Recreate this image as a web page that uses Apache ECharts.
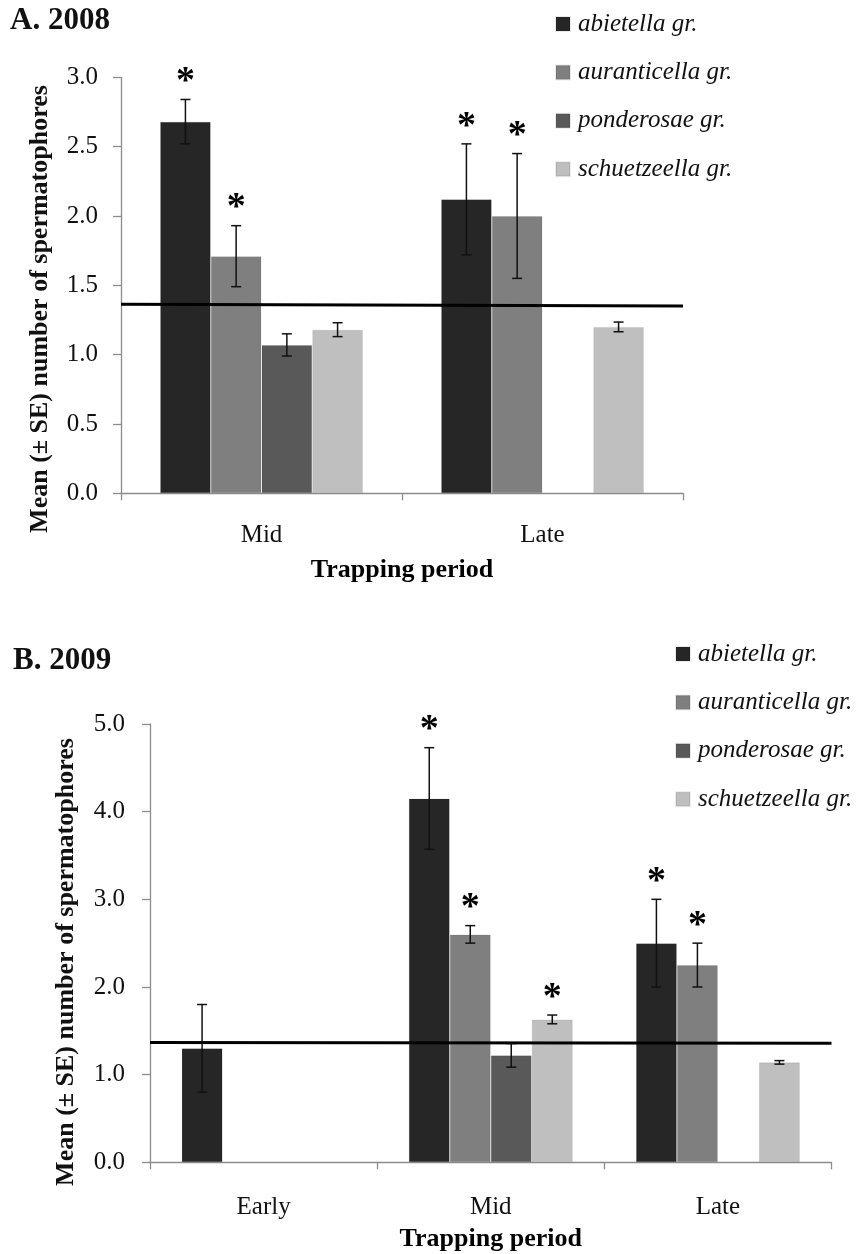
<!DOCTYPE html>
<html>
<head>
<meta charset="utf-8">
<script src="https://cdn.jsdelivr.net/npm/echarts@6/dist/echarts.min.js"></script>
<style>
  html, body { margin: 0; padding: 0; background: #fff; }
  #chart { width: 857px; height: 1254px; }
</style>
</head>
<body>
<div id="chart"></div>
<script>
// ---- Data: mean number of spermatophores (± SE) per species group ----
const groups = ['abietella gr.', 'auranticella gr.', 'ponderosae gr.', 'schuetzeella gr.'];
const groupColors = ['#262626', '#7f7f7f', '#595959', '#bfbfbf'];

// 2008
const periods2008 = ['Mid', 'Late'];
const abietella2008 = [2.68, 2.12];
const abietellaSE2008 = [0.16, 0.40];
const auranticella2008 = [1.71, 2.00];
const auranticellaSE2008 = [0.22, 0.45];
const ponderosae2008 = [1.07, null];
const ponderosaeSE2008 = [0.08, null];
const schuetzeella2008 = [1.18, 1.20];
const schuetzeellaSE2008 = [0.05, 0.035];
const sig2008 = [[1, 1], [1, 1], [0, 0], [0, 0]];
const refLine2008 = [1.363, 1.350];
const yTicks2008 = { min: 0, max: 3, interval: 0.5 };

// 2009
const periods2009 = ['Early', 'Mid', 'Late'];
const abietella2009 = [1.30, 4.15, 2.50];
const abietellaSE2009 = [0.50, 0.58, 0.50];
const auranticella2009 = [null, 2.60, 2.25];
const auranticellaSE2009 = [null, 0.10, 0.25];
const ponderosae2009 = [null, 1.22, null];
const ponderosaeSE2009 = [null, 0.135, null];
const schuetzeella2009 = [null, 1.63, 1.14];
const schuetzeellaSE2009 = [null, 0.05, 0.02];
const sig2009 = [[0, 1, 1], [0, 1, 1], [0, 0, 0], [0, 1, 0]];
const refLine2009 = [1.368, 1.357];
const yTicks2009 = { min: 0, max: 5, interval: 1 };

const yTitle = 'Mean (\u00b1 SE) number of spermatophores';
const xTitle = 'Trapping period';

// ---- Styling ----
const SERIF = '"Liberation Serif", "Times New Roman", serif';
const AXIS_GRAY = '#8c8c8c';
const CAT_GAP = 0.278;

const panels = [
  {
    periods: periods2008,
    means: [abietella2008, auranticella2008, ponderosae2008, schuetzeella2008],
    ses: [abietellaSE2008, auranticellaSE2008, ponderosaeSE2008, schuetzeellaSE2008],
    sig: sig2008, ref: refLine2008, ticks: yTicks2008,
    grid: { left: 121, top: 77.3, width: 562, height: 416 },
    labelMargin: 23, catMargin: 30,
    legend: { left: 550, top: 4 }
  },
  {
    periods: periods2009,
    means: [abietella2009, auranticella2009, ponderosae2009, schuetzeella2009],
    ses: [abietellaSE2009, auranticellaSE2009, ponderosaeSE2009, schuetzeellaSE2009],
    sig: sig2009, ref: refLine2009, ticks: yTicks2009,
    grid: { left: 150, top: 724, width: 681.5, height: 438.3 },
    labelMargin: 25, catMargin: 33,
    legend: { left: 670, top: 634 }
  }
];

const grids = [], xAxes = [], yAxes = [], series = [], legends = [];

panels.forEach((p, pi) => {
  grids.push(Object.assign({ containLabel: false }, p.grid));
  const catAxis = xAxes.length;
  xAxes.push({
    type: 'category', gridIndex: pi, data: p.periods,
    name: xTitle, nameLocation: 'middle', nameGap: 64,
    nameTextStyle: { fontFamily: SERIF, fontWeight: 'bold', fontSize: 26, color: '#000' },
    axisLine: { lineStyle: { color: AXIS_GRAY, width: 1.3 } },
    axisTick: { show: true, length: 7, lineStyle: { color: AXIS_GRAY, width: 1.3 } },
    axisLabel: { fontFamily: SERIF, fontSize: 25, color: '#111', margin: p.catMargin },
    splitLine: { show: false }
  });
  const refAxis = xAxes.length;
  xAxes.push({ type: 'value', gridIndex: pi, min: 0, max: 1, show: false });
  yAxes.push({
    type: 'value', gridIndex: pi,
    min: p.ticks.min, max: p.ticks.max, interval: p.ticks.interval,
    axisLine: { show: true, lineStyle: { color: AXIS_GRAY, width: 1.3 } },
    axisTick: { show: true, length: 8, lineStyle: { color: AXIS_GRAY, width: 1.3 } },
    axisLabel: { fontFamily: SERIF, fontSize: 25, color: '#111', margin: p.labelMargin,
                 formatter: v => v.toFixed(1) },
    splitLine: { show: false }
  });

  // bars
  groups.forEach((g, gi) => {
    series.push({
      name: g, type: 'bar', xAxisIndex: catAxis, yAxisIndex: pi,
      data: p.means[gi].map(v => (v == null ? '-' : v)),
      barGap: '0%', barCategoryGap: (CAT_GAP * 100) + '%',
      itemStyle: { color: groupColors[gi], borderColor: 'rgba(0,0,0,0.08)', borderWidth: 1 },
      z: 2
    });
  });

  // error bars and significance asterisks
  groups.forEach((g, gi) => {
    const items = [];
    p.means[gi].forEach((v, ci) => {
      if (v != null) items.push([ci, v, p.ses[gi][ci], p.sig[gi][ci]]);
    });
    series.push({
      type: 'custom', xAxisIndex: catAxis, yAxisIndex: pi, z: 5,
      data: items,
      encode: { x: 0, y: 1 },
      renderItem: function (params, api) {
        const ci = api.value(0), v = api.value(1), se = api.value(2), sig = api.value(3);
        const band = api.size([1, 0])[0];
        const bw = band * (1 - CAT_GAP) / groups.length;
        const x = api.coord([ci, 0])[0] + (gi - (groups.length - 1) / 2) * bw;
        const yTop = api.coord([ci, v + se])[1];
        const yBot = api.coord([ci, v - se])[1];
        const cap = 5;
        const st = { stroke: '#111', lineWidth: 1.5 };
        const children = [
          { type: 'line', shape: { x1: x, y1: yTop, x2: x, y2: yBot }, style: st },
          { type: 'line', shape: { x1: x - cap, y1: yTop, x2: x + cap, y2: yTop }, style: st },
          { type: 'line', shape: { x1: x - cap, y1: yBot, x2: x + cap, y2: yBot }, style: st }
        ];
        if (sig) {
          children.push({
            type: 'text',
            style: { text: '*', x: x, y: yTop - 17, align: 'center', verticalAlign: 'middle',
                     font: 'bold 38px ' + SERIF, fill: '#000' }
          });
        }
        return { type: 'group', children: children };
      }
    });
  });

  // horizontal reference line across the panel
  series.push({
    type: 'line', xAxisIndex: refAxis, yAxisIndex: pi,
    data: [[0, p.ref[0]], [1, p.ref[1]]],
    symbol: 'none', silent: true, z: 6,
    lineStyle: { color: '#000', width: 3 }
  });

  legends.push({
    orient: 'vertical', left: p.legend.left, top: p.legend.top,
    data: groups, icon: 'rect', itemWidth: 14, itemHeight: 14, itemGap: 18.4,
    selectedMode: false,
    textStyle: { fontFamily: SERIF, fontStyle: 'italic', fontSize: 25, color: '#111',
                 lineHeight: 30, padding: [0, 0, 0, 3] }
  });
});

const chart = echarts.init(document.getElementById('chart'), null, { renderer: 'canvas' });
chart.setOption({
  backgroundColor: '#fff',
  animation: false,
  grid: grids, xAxis: xAxes, yAxis: yAxes, legend: legends, series: series,
  graphic: [
    { type: 'text', left: 10, top: 5,
      style: { text: 'A. 2008', font: 'bold 31px ' + SERIF, fill: '#111' } },
    { type: 'text', left: 13, top: 645,
      style: { text: 'B. 2009', font: 'bold 31px ' + SERIF, fill: '#111' } },
    { type: 'text', x: 40, y: 309, rotation: Math.PI / 2,
      style: { text: yTitle, font: 'bold 26px ' + SERIF, fill: '#111',
               align: 'center', verticalAlign: 'middle' } },
    { type: 'text', x: 66, y: 962, rotation: Math.PI / 2,
      style: { text: yTitle, font: 'bold 26px ' + SERIF, fill: '#111',
               align: 'center', verticalAlign: 'middle' } }
  ]
});
</script>
</body>
</html>
